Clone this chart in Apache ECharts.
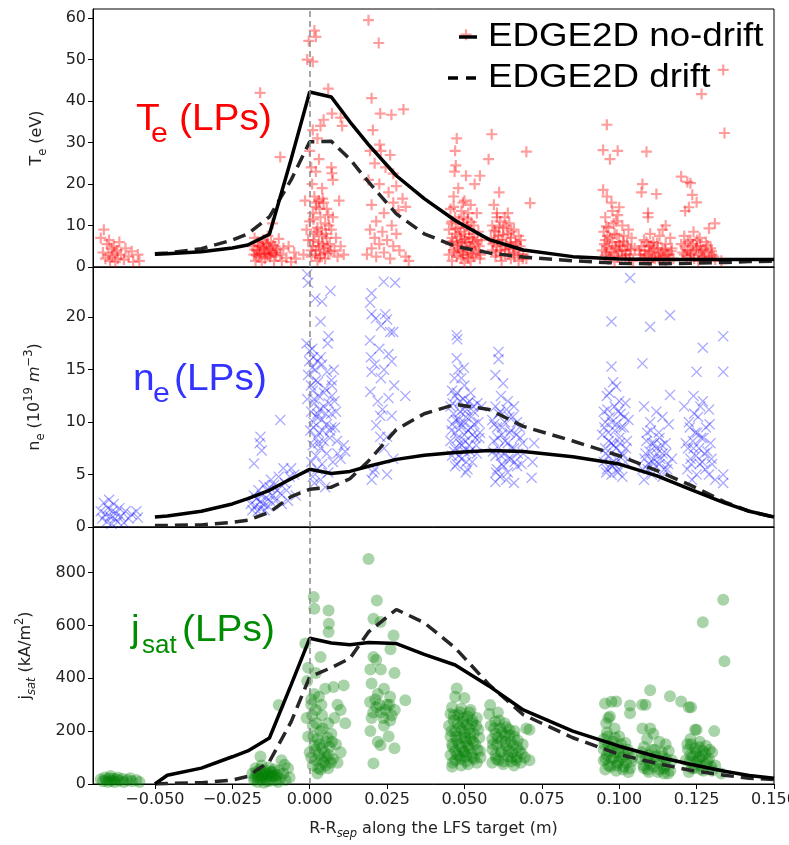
<!DOCTYPE html>
<html><head><meta charset="utf-8">
<script src="https://cdn.jsdelivr.net/npm/echarts@6/dist/echarts.min.js"></script>
<style>html,body{margin:0;padding:0;background:#fff}#c{width:789px;height:845px}</style>
</head><body><div id="c"></div>
<script>
// ---- tick labels ----
const xTicks = [-0.05, -0.025, 0, 0.025, 0.05, 0.075, 0.1, 0.125, 0.15];
const teTicks = [0, 10, 20, 30, 40, 50, 60];
const neTicks = [0, 5, 10, 15, 20];
const jTicks = [0, 200, 400, 600, 800];

// ---- EDGE2D model profiles (shared x grid) ----
const modelX =   [-0.05, -0.046, -0.035, -0.025, -0.02, -0.013, -0.006, 0, 0.007, 0.013, 0.019, 0.028, 0.037, 0.047, 0.058, 0.069, 0.085, 0.1, 0.112, 0.123, 0.134, 0.142, 0.15];
const teNoDrift = [3.1, 3.2, 3.7, 4.6, 5.3, 7.9, 26, 42.2, 41, 35, 29.5, 22, 16.5, 11.2, 6.6, 4.1, 2.5, 1.9, 1.8, 1.8, 1.8, 1.8, 1.8];
const teDrift =   [3.2, 3.4, 4.4, 6.5, 8, 12.1, 21, 30.2, 30.3, 26, 20.5, 12.8, 8.0, 5.0, 3.4, 2.4, 1.5, 0.9, 0.8, 0.9, 1.1, 1.3, 1.4];
const neNoDrift = [0.95, 1.05, 1.5, 2.2, 2.7, 3.5, 4.6, 5.5, 5.1, 5.3, 5.8, 6.45, 6.85, 7.1, 7.3, 7.2, 6.7, 6.0, 4.9, 3.6, 2.3, 1.5, 0.95];
const neDrift =   [0.15, 0.15, 0.2, 0.45, 0.65, 1.4, 2.9, 3.6, 3.8, 4.6, 6.3, 9.3, 10.8, 11.7, 11.2, 9.6, 8.2, 6.8, 5.4, 4.0, 2.4, 1.5, 0.95];
const jNoDrift =  [0, 33, 60, 103, 125, 174, 375, 551, 533, 527, 535, 531, 490, 450, 370, 280, 200, 143, 104, 75, 48, 32, 22];
const jDrift =    [0, 2, 5, 15, 29, 85, 235, 405, 440, 475, 575, 660, 610, 515, 375, 262, 175, 112, 78, 52, 33, 22, 17];

// ---- Langmuir probe measurements [x, value] ----
const teLP = [
[-0.0675,7],[-0.0665,9],[-0.0668,3.5],[-0.066,2],[-0.0655,5.5],[-0.065,3],[-0.0648,6.5],[-0.0645,1.5],[-0.064,4.5],[-0.0638,2.5],[-0.0633,5],[-0.063,3.5],[-0.0628,1.2],[-0.0622,4],[-0.062,2],[-0.0615,6],[-0.061,3],[-0.06,1.8],[-0.0595,4.5],[-0.0585,2.5],[-0.0575,3.8],[-0.057,1.2],[-0.0555,3],[-0.055,1.5],
[-0.016,42],[-0.0095,26.5],[-0.012,10.5],[-0.0185,5],[-0.018,3],[-0.0178,7],[-0.0175,1.5],[-0.017,4],[-0.0168,6],[-0.0165,2.5],[-0.016,5],[-0.0158,3.5],[-0.0155,1.2],[-0.015,6.5],[-0.0148,4.5],[-0.0145,2],[-0.014,3.2],[-0.0138,5.5],[-0.0135,7.5],[-0.013,4],[-0.0128,2.5],[-0.0125,6],[-0.012,3.5],[-0.0115,1.5],[-0.0112,5],[-0.011,2.8],[-0.0105,4.2],[-0.01,6.8],[-0.0095,3],[-0.009,1.5],[-0.0085,4.5],[-0.0075,2.2],[-0.0068,5],[-0.006,1.2],[-0.005,3.5],[-0.0045,2],
[0.0015,57],[0.002,55.5],[-0.0003,54.5],[-0.0008,50],[0.001,49.5],[0.006,43],[0.0072,37],[0.0045,35.5],[0.0035,34],[0.01,36],[0.0105,34],[0.001,33],[0.0025,31],[0,28],[0.003,26],[0.0005,24],[0.002,23],[0.0072,22.6],[0.0075,21],[0.007,24],[0.0008,20],[0.004,19],[0.0015,17],[0.003,16],[0.0045,15.5],[0.0055,14],[0.002,14.5],[0.001,13],[0.006,12.5],[0.0035,12],[0.005,10.5],[0,11],[0.0025,9.5],[0.007,9],[0.0015,8],[0.004,7.5],[0.0055,7],[-0.0005,6.5],[0.003,6],[0.0065,5.5],[0.001,5],[0.0045,4.5],[0.002,4],[0.008,4],[0.006,3.2],[0.0035,3],[0.0005,2.5],[0.005,2],[0.0025,1.5],[0.009,2.5],[0.01,5],[0.011,3],[0.0085,7],[0.0075,12],[0.0095,16],[-0.0015,16],[-0.001,9],[-0.002,3],
[0.019,59.5],[0.0223,54],[0.02,40.7],[0.0228,37],[0.0264,36.7],[0.0303,38],[0.0204,33],[0.0226,29.5],[0.023,28],[0.026,27],[0.0195,28],[0.021,25],[0.0245,24],[0.027,22.5],[0.019,21],[0.0225,20],[0.028,19.5],[0.0255,18],[0.03,16.5],[0.031,14.5],[0.02,15],[0.024,13],[0.0215,11],[0.0265,10],[0.0195,9],[0.0235,8.5],[0.028,8],[0.021,7],[0.025,6.5],[0.0225,5.5],[0.027,5],[0.02,4.5],[0.029,4],[0.024,3.5],[0.0215,2.5],[0.026,2],[0.031,2.5],[0.032,1.5],[0.0185,3],[0.0287,13.7],[0.027,15.5],
[0.0475,31],[0.047,28],[0.0472,24.5],[0.0468,23],[0.0505,56],[0.0505,22],[0.0533,20],[0.055,22],[0.048,19],[0.0465,17],[0.05,16],[0.052,15],[0.0455,14],[0.049,13.5],[0.054,13],[0.047,12],[0.051,11.5],[0.046,11],[0.0495,10.5],[0.053,10],[0.048,9.5],[0.045,9],[0.0515,9],[0.0545,8.5],[0.047,8],[0.05,8],[0.0485,7.5],[0.0525,7],[0.046,7],[0.0555,6.5],[0.049,6.5],[0.0475,6],[0.051,6],[0.0535,5.5],[0.0455,5.5],[0.05,5],[0.048,4.5],[0.052,4.5],[0.0465,4],[0.0545,4],[0.0495,3.5],[0.045,3],[0.051,3],[0.053,2.5],[0.0475,2.5],[0.049,2],[0.055,2],[0.046,1.5],[0.052,1.5],[0.05,1],
[0.0588,32],[0.0578,26],[0.07,27.8],[0.0612,18],[0.0595,15],[0.0712,15.4],[0.0605,13],[0.063,12],[0.0615,11],[0.0645,10.5],[0.059,10],[0.0625,9.5],[0.066,9],[0.06,8.5],[0.064,8],[0.061,7.5],[0.0675,7.5],[0.0585,7],[0.065,7],[0.062,6.5],[0.0595,6],[0.0665,6],[0.0635,5.5],[0.0605,5],[0.068,5],[0.0645,4.5],[0.0615,4],[0.059,4],[0.066,3.5],[0.063,3],[0.069,3],[0.06,2.5],[0.065,2],[0.062,1.5],[0.0675,1.5],[0.07,2],
[0.096,34.3],[0.0948,28.2],[0.0995,28],[0.097,26],[0.0948,18.6],[0.096,17],[0.0975,15.5],[0.0978,13.5],[0.1,14.4],[0.0955,12],[0.099,11],[0.101,10],[0.0965,9.5],[0.103,9],[0.095,8.5],[0.0985,8],[0.1015,7.5],[0.097,7],[0.104,7],[0.0955,6.5],[0.1,6],[0.1025,5.5],[0.096,5],[0.099,4.5],[0.105,4.5],[0.0945,4],[0.101,4],[0.0975,3.5],[0.1035,3],[0.0955,2.8],[0.0995,2.5],[0.102,2],[0.0965,1.8],[0.1045,1.5],[0.0985,1.2],
[0.1088,27.8],[0.1075,20],[0.1072,18],[0.112,17.6],[0.1093,13],[0.1093,12],[0.115,10],[0.114,9],[0.11,8],[0.113,7.5],[0.1165,7],[0.108,6.5],[0.111,6],[0.115,5.5],[0.1095,5],[0.1125,4.5],[0.117,4.5],[0.1065,4],[0.114,4],[0.1105,3.5],[0.116,3],[0.1085,3],[0.113,2.5],[0.107,2],[0.1115,2],[0.1175,2],[0.115,1.5],[0.1095,1.2],
[0.12,21.8],[0.122,20.5],[0.123,20.2],[0.1236,17.4],[0.125,15.6],[0.1225,14.4],[0.1213,13.5],[0.1309,10.5],[0.129,9.3],[0.124,8.5],[0.121,7.5],[0.126,7],[0.123,6.5],[0.128,6],[0.12,5.5],[0.125,5],[0.1295,4.5],[0.122,4],[0.1265,4],[0.124,3.5],[0.13,3],[0.121,3],[0.1275,2.5],[0.123,2],[0.131,1.8],[0.1255,1.5],[0.133,1.5],
[0.1336,47.5],[0.1266,41.7],[0.134,32.3]
];
const teLPdense = [
[0.0458,10.5],[0.0462,6.2],[0.0468,3.5],[0.0472,9.2],[0.0478,5.2],[0.0482,11.5],[0.0486,3.8],[0.0488,8.5],[0.0492,5.8],[0.0496,2.8],[0.0498,12],[0.0502,6.8],[0.0506,4.2],[0.0508,9.8],[0.0512,2.2],[0.0516,7.2],[0.0518,4.8],[0.0522,10.8],[0.0526,3.2],[0.0528,6],[0.0532,8],[0.0538,3.5],[0.0542,6.5],[0.0548,5],[0.0552,3],[0.0465,14.5],[0.0495,15.5],[0.0512,13],
[0.0592,5.5],[0.0596,8.8],[0.0602,3.5],[0.0608,6.5],[0.0612,9.5],[0.0618,2.8],[0.0622,5],[0.0626,7.8],[0.0632,4.2],[0.0636,10],[0.0642,3],[0.0648,6],[0.0652,8.5],[0.0656,4.5],[0.0662,2.5],[0.0668,5.5],[0.0672,4],[0.0678,3],[0.0682,6.5],[0.0688,2],[0.0605,12],[0.064,13],
[0.0952,5.5],[0.0958,3.5],[0.0962,7.5],[0.0968,4.5],[0.0972,2.2],[0.0978,6],[0.0982,3],[0.0988,5],[0.0992,7.8],[0.0998,3.8],[0.1002,5.2],[0.1008,2.5],[0.1012,6.2],[0.1018,4],[0.1022,3],[0.1028,5],[0.1032,2],[0.1038,4.2],[0.0958,9.8],[0.0982,10.5],[0.0995,12.5],
[0.1068,3],[0.1072,5],[0.1078,2],[0.1082,4],[0.1088,6],[0.1092,2.5],[0.1098,3.8],[0.1102,5.2],[0.1108,2.2],[0.1112,4.5],[0.1118,3],[0.1122,5.8],[0.1128,2],[0.1135,3.5],[0.1142,2.5],[0.1148,4.2],[0.1155,3],[0.1162,2],[0.1168,3.8],
[0.1205,3.5],[0.1212,5],[0.1218,2.5],[0.1222,6],[0.1228,4],[0.1232,3],[0.1238,5.5],[0.1242,2],[0.1248,4.5],[0.1252,6.5],[0.1258,3],[0.1262,5],[0.1268,2.5],[0.1272,4.2],[0.1278,3.5],[0.1285,5.2],[0.129,2.2],[0.1298,3.8],[0.1305,2.5],
[-0.0178,4.2],[-0.0172,2.8],[-0.0166,5.2],[-0.0162,3.2],[-0.0152,4.8],[-0.0146,3.2],[-0.0142,5.8],[-0.0136,2.8],[-0.0132,4.5],[-0.0126,3.2],[-0.0118,5.2],[-0.0108,3.5],
[0.0005,4],[0.0012,6.5],[0.0018,3],[0.0022,8.5],[0.0028,5],[0.0032,2.2],[0.0038,9],[0.0042,5.5],[0.0048,3.5],[0.0052,8],[0.0058,5],[0.0062,10],[0.0068,3.8],[0.0022,15.5],[0.0042,16.5],[0.0032,14],[0.0012,11.5]
];
const neLP = [
[-0.0675,1.5],[-0.067,0.8],[-0.0665,2.3],[-0.066,1.2],[-0.0655,0.5],[-0.0652,1.8],[-0.0648,2.6],[-0.0645,1.0],[-0.064,0.3],[-0.0638,1.5],[-0.0633,2.2],[-0.063,0.8],[-0.0625,1.3],[-0.062,0.5],[-0.0615,1.8],[-0.061,1.0],[-0.06,0.4],[-0.0595,1.5],[-0.0585,0.8],[-0.0575,1.2],[-0.056,1.5],[-0.0555,0.9],
[-0.018,6.05],[-0.0159,8.6],[-0.0162,8.0],[-0.0155,7.3],[-0.0095,10.2],[-0.0085,5.6],[-0.006,5.6],[-0.0065,4.8],[-0.019,2.2],[-0.0185,1.6],[-0.018,3.0],[-0.0175,2.0],[-0.0172,2.7],[-0.0168,1.5],[-0.0165,3.5],[-0.016,2.4],[-0.0158,1.8],[-0.0155,3.0],[-0.015,2.2],[-0.0148,4.0],[-0.0145,1.6],[-0.014,2.8],[-0.0138,3.5],[-0.0135,2.0],[-0.013,3.8],[-0.0128,2.5],[-0.0125,4.5],[-0.012,3.0],[-0.0115,4.0],[-0.011,2.5],[-0.0105,3.5],[-0.01,4.8],[-0.0095,3.2],[-0.009,2.2],[-0.008,4.2],[-0.0075,3.5],[-0.007,2.5],[-0.005,5.0],[-0.0045,3.0],
[-0.0008,24.1],[-0.0005,23.3],[0.0018,21.8],[0.004,21.5],[0.0067,22.5],[0.0035,19.6],[0.0061,18.2],[0.0058,17.5],[-0.001,17.5],[0,16.8],[0.0012,16.2],[0.0025,15.8],[0.0008,15.2],[0.004,15.5],[-0.0005,14.5],[0.002,14.0],[0.007,14.0],[0.0072,13.5],[0.005,13.2],[0.001,13.0],[-0.0008,12.2],[0.003,12.5],[0.0015,11.8],[0.0045,11.5],[0.0005,11.0],[0.0025,10.8],[0.007,10.8],[0.0038,10.2],[0.0012,10.0],[0.007,9.5],[0.0055,9.8],[0.0002,9.2],[0.003,9.0],[0.002,8.5],[0.0045,8.2],[0.0065,8.5],[0.001,7.8],[0.0035,7.5],[0.011,7.8],[0.0115,7.2],[0.0055,7.0],[0.002,6.8],[0.0005,6.2],[0.004,6.0],[0.0075,6.2],[0.0025,5.5],[0.006,5.2],[0.001,4.8],[0.0035,4.5],[0.005,3.8],[0.0015,4.2],[0.008,12.0],[0.0085,11.0],[0.009,7.0],[0.01,6.5],[0.0078,15],[0.0082,9.5],[0.0088,8.2],
[0.0239,23.4],[0.0276,23.3],[0.02,22.3],[0.0195,21.4],[0.0214,19.9],[0.02,20.3],[0.023,19.2],[0.0244,20.3],[0.026,18.6],[0.027,18.6],[0.025,19.8],[0.0195,17.8],[0.0225,17.0],[0.0198,16.2],[0.0255,16.5],[0.021,15.5],[0.024,15.0],[0.0265,15.8],[0.02,14.8],[0.023,14.2],[0.0273,13.5],[0.0196,12.9],[0.0309,12.5],[0.022,12.0],[0.0255,12.3],[0.0235,11.2],[0.0265,10.6],[0.0228,10.6],[0.0215,9.7],[0.0228,8.6],[0.025,8.6],[0.024,7.5],[0.027,6.5],[0.021,5.5],[0.02,4.5],[0.0205,5.2],[0.025,5.0],
[0.0475,18.3],[0.0477,17.9],[0.0475,16.1],[0.048,15.0],[0.049,14.2],[0.046,13.0],[0.05,13.5],[0.052,12.8],[0.047,12.5],[0.0485,12.0],[0.051,11.8],[0.0455,11.5],[0.0495,11.2],[0.053,11.0],[0.0465,10.8],[0.0505,10.5],[0.048,10.2],[0.0545,10.0],[0.046,9.8],[0.049,9.5],[0.052,9.5],[0.047,9.0],[0.05,8.8],[0.0535,8.5],[0.0455,8.2],[0.0485,8.0],[0.0515,7.8],[0.047,7.5],[0.05,7.2],[0.054,7.0],[0.046,6.8],[0.049,6.5],[0.0525,6.2],[0.0475,6.0],[0.047,5.8],[0.0504,5.2],[0.051,5.5],[0.055,9.0],[0.0555,11.5],
[0.061,16.7],[0.061,16.0],[0.06,14.5],[0.0625,13.7],[0.064,12.0],[0.06,11.5],[0.066,11.5],[0.0615,11.0],[0.0645,10.5],[0.059,10.2],[0.063,10.0],[0.067,10.0],[0.0605,9.5],[0.065,9.2],[0.062,8.8],[0.068,8.5],[0.0595,8.2],[0.064,8.0],[0.061,7.5],[0.066,7.5],[0.063,7.0],[0.06,6.8],[0.065,6.5],[0.069,7.0],[0.062,6.0],[0.067,5.8],[0.0605,5.5],[0.064,5.2],[0.06,4.3],[0.0615,4.8],[0.0635,4.5],[0.0717,4.7],[0.072,6.2],[0.0725,8.0],[0.066,4.2],
[0.1035,23.75],[0.0975,19.6],[0.0975,15.3],[0.098,13.8],[0.099,13.4],[0.1,12.0],[0.096,12.5],[0.0985,11.5],[0.102,11.8],[0.095,11.0],[0.1005,10.8],[0.097,10.5],[0.103,10.2],[0.0955,10.0],[0.099,9.8],[0.1015,9.5],[0.0965,9.0],[0.0945,8.8],[0.1,8.5],[0.1025,8.2],[0.0975,8.0],[0.0955,7.5],[0.099,7.5],[0.101,7.0],[0.0965,6.8],[0.095,6.2],[0.0985,6.0],[0.102,6.2],[0.096,5.5],[0.0975,5.0],[0.0995,5.2],[0.101,4.8],
[0.11,19.1],[0.1164,20.2],[0.1075,15.6],[0.1164,12.6],[0.108,11.5],[0.112,11.0],[0.114,10.5],[0.11,10.0],[0.116,9.8],[0.109,9.0],[0.113,8.5],[0.1105,8.0],[0.115,8.0],[0.112,7.5],[0.1085,7.0],[0.114,7.0],[0.111,6.5],[0.117,6.5],[0.1095,6.0],[0.113,6.0],[0.1075,5.5],[0.1155,5.5],[0.1105,5.0],[0.108,4.5],[0.114,4.8],
[0.1336,18.2],[0.127,17.1],[0.125,14.8],[0.1336,14.8],[0.124,12.5],[0.127,12.0],[0.121,11.5],[0.129,11.2],[0.1255,10.5],[0.1225,10.0],[0.128,9.5],[0.1245,9.0],[0.1265,8.5],[0.1215,8.0],[0.1295,8.0],[0.124,7.5],[0.1275,7.0],[0.123,6.5],[0.126,6.0],[0.13,6.0],[0.122,5.5],[0.125,5.0],[0.129,5.0],[0.1235,4.5],[0.1336,5.0],[0.1336,4.2],[0.131,4.5]
];
const neLPdense = [
[0.0458,9.2],[0.0462,11.8],[0.0466,7.2],[0.0472,10.2],[0.0476,12.8],[0.0478,8.5],[0.0482,6.8],[0.0486,11],[0.0488,9.8],[0.0492,7.8],[0.0496,12.2],[0.0498,10],[0.0502,8.2],[0.0506,6.2],[0.0508,11.2],[0.0512,9.2],[0.0516,12],[0.0518,7.2],[0.0522,10.5],[0.0526,8.8],[0.0528,11.5],[0.0532,9.8],[0.0538,7.8],[0.0542,11.8],[0.0548,8.5],[0.0468,14.2],[0.0498,15.2],
[0.0592,7.2],[0.0596,9.8],[0.0602,5.2],[0.0608,8.5],[0.0612,10.8],[0.0618,6.8],[0.0622,9.5],[0.0626,5.8],[0.0632,8.2],[0.0636,11.2],[0.0642,6.5],[0.0646,9],[0.0652,7.5],[0.0656,10.5],[0.0662,6.2],[0.0668,8.8],[0.0672,7],[0.0678,9.5],[0.0684,6],[0.0688,8],[0.0618,12.5],
[0.0952,9.5],[0.0956,7],[0.0962,11.2],[0.0966,8.2],[0.0972,6],[0.0976,10],[0.0982,7.8],[0.0986,9.2],[0.0992,6.5],[0.0996,11],[0.1002,8],[0.1006,9.5],[0.1012,6.8],[0.1016,10.5],[0.1022,7.5],[0.0958,5.2],[0.0978,5.8],[0.0998,5.5],[0.0968,12.8],
[0.1082,6.5],[0.1088,8.2],[0.1092,5.5],[0.1098,7.2],[0.1102,9.2],[0.1108,6.2],[0.1112,8],[0.1118,5.8],[0.1122,7],[0.1128,9],[0.1132,6.5],[0.1138,7.8],[0.1145,5.5],[0.1152,7],[0.1158,6],
[0.1222,7.5],[0.1228,9.5],[0.1232,6],[0.1238,8.2],[0.1242,10.8],[0.1248,6.8],[0.1252,9],[0.1258,7.5],[0.1262,11.5],[0.1268,6.2],[0.1272,8.5],[0.1278,5.5],[0.1285,7.2],[0.1292,9.8],[0.1298,6.5],
[-0.0002,15.8],[0.0004,13.5],[0.0008,17],[0.0014,12.2],[0.0018,15],[0.0022,10.5],[0.0026,13.8],[0.0032,11.2],[0.0036,16.2],[0.0042,9.2],[0.0046,12.8],[0.0052,10.8],[0.0056,14.8],[0.0062,11.8],[0.0066,9.2],[0.0072,12.5],[0.0028,8],[0.0012,9.5]
];
const jsatLP = [
[-0.0675,18],[-0.0668,10],[-0.0662,25],[-0.0658,15],[-0.0652,8],[-0.0648,22],[-0.0643,30],[-0.064,12],[-0.0635,20],[-0.063,8],[-0.0625,18],[-0.062,25],[-0.0615,12],[-0.0605,20],[-0.06,8],[-0.059,15],[-0.058,22],[-0.0575,10],[-0.056,15],[-0.055,8],
[-0.0159,104],[-0.01,299],[-0.0091,90],[-0.0081,73],[-0.0185,40],[-0.018,15],[-0.0175,60],[-0.017,30],[-0.0168,8],[-0.0162,45],[-0.0158,20],[-0.0155,70],[-0.015,35],[-0.0148,5],[-0.0143,50],[-0.014,20],[-0.0135,38],[-0.0132,62],[-0.0128,12],[-0.0125,45],[-0.012,28],[-0.0115,55],[-0.011,15],[-0.0105,35],[-0.01,50],[-0.0095,20],[-0.0085,40],[-0.0078,15],[-0.007,60],[-0.0065,25],
[0.0013,707],[0.0015,663],[0.0061,656],[0.0062,606],[0.0061,575],[-0.0014,531],[0.0035,480],[-0.0005,440],[0.0077,367],[0.011,373],[0.0015,340],[0.003,330],[0.0005,300],[0.005,360],[0.009,300],[0.01,280],[0.0115,230],[0.008,250],[0.002,280],[0.004,260],[-0.001,250],[0.006,230],[0.001,220],[0.0035,200],[0.007,190],[-0.0005,180],[0.0025,170],[0.005,160],[0.0015,145],[0.004,135],[0.0065,140],[0,120],[0.003,110],[0.0055,100],[0.002,90],[0.0045,80],[0.0075,95],[0.001,70],[0.0035,55],[0.006,60],[0.0025,40],[0.009,80],[0.01,120],[0.0085,150],[0.0005,320],[-0.0008,390],[0.002,420],
[0.019,851],[0.0217,694],[0.0206,625],[0.0229,613],[0.0271,562],[0.0261,510],[0.0206,480],[0.0215,470],[0.0196,433],[0.023,433],[0.0274,420],[0.02,380],[0.024,360],[0.022,340],[0.026,330],[0.0195,310],[0.025,300],[0.0309,317],[0.0215,290],[0.0275,280],[0.023,270],[0.02,250],[0.026,240],[0.024,220],[0.0196,200],[0.0229,147],[0.0274,135],[0.0255,180],[0.0206,78],[0.022,160],
[0.0475,361],[0.047,330],[0.05,325],[0.046,290],[0.049,285],[0.052,280],[0.0455,265],[0.048,260],[0.051,255],[0.054,250],[0.0465,240],[0.0495,235],[0.0525,230],[0.045,220],[0.0485,215],[0.0515,210],[0.0545,205],[0.047,200],[0.05,195],[0.053,190],[0.0455,180],[0.049,175],[0.052,170],[0.0475,165],[0.0505,160],[0.046,150],[0.0535,150],[0.049,140],[0.0515,135],[0.047,125],[0.05,120],[0.055,125],[0.0455,110],[0.0485,105],[0.0525,100],[0.047,90],[0.0505,85],[0.054,80],[0.049,70],[0.046,65],
[0.0583,299],[0.0608,270],[0.058,265],[0.06,235],[0.063,230],[0.0585,220],[0.0615,210],[0.0645,205],[0.06,190],[0.063,185],[0.066,180],[0.059,170],[0.062,165],[0.065,160],[0.0605,150],[0.0635,145],[0.067,140],[0.059,130],[0.062,125],[0.0655,120],[0.0685,115],[0.06,110],[0.064,105],[0.067,100],[0.061,90],[0.065,85],[0.0625,75],[0.066,70],[0.07,210],[0.071,205],[0.071,90],[0.059,80],
[0.0954,304],[0.0975,311],[0.099,312],[0.1035,297],[0.1035,268],[0.097,255],[0.0965,250],[0.0958,230],[0.0985,210],[0.096,195],[0.1,180],[0.095,170],[0.098,160],[0.102,155],[0.0965,145],[0.1,135],[0.095,130],[0.0985,120],[0.103,115],[0.096,110],[0.101,100],[0.0975,95],[0.095,90],[0.0995,80],[0.104,85],[0.0965,70],[0.1015,65],[0.0955,55],[0.099,50],[0.103,45],
[0.1074,300],[0.1085,300],[0.11,355],[0.1164,332],[0.1075,210],[0.11,210],[0.111,190],[0.109,170],[0.113,160],[0.115,150],[0.108,140],[0.1115,130],[0.116,125],[0.1095,110],[0.114,105],[0.107,95],[0.112,90],[0.117,90],[0.11,75],[0.115,70],[0.108,60],[0.113,55],[0.1165,50],[0.1095,45],[0.1145,40],
[0.12,312],[0.1225,290],[0.1232,290],[0.1245,205],[0.125,205],[0.1307,200],[0.123,170],[0.126,160],[0.122,150],[0.128,145],[0.1245,135],[0.127,125],[0.13,120],[0.123,110],[0.126,100],[0.129,95],[0.1215,90],[0.125,80],[0.128,75],[0.131,70],[0.1235,60],[0.1265,55],[0.13,50],[0.1225,45],[0.133,40],
[0.127,612],[0.1336,697],[0.134,464]
];
const jsatLPdense = [
[0.0458,200],[0.0462,140],[0.0466,260],[0.0472,180],[0.0476,110],[0.0478,230],[0.0482,150],[0.0486,270],[0.0488,95],[0.0492,205],[0.0496,125],[0.0498,250],[0.0502,175],[0.0506,105],[0.0508,225],[0.0512,145],[0.0516,270],[0.0518,190],[0.0522,115],[0.0526,240],[0.0528,160],[0.0532,95],[0.0538,220],[0.0542,130],[0.0548,175],[0.0552,100],[0.0462,80],[0.0512,75],
[0.0592,150],[0.0596,210],[0.0602,95],[0.0608,175],[0.0612,240],[0.0618,120],[0.0622,195],[0.0626,85],[0.0632,160],[0.0636,215],[0.0642,125],[0.0646,185],[0.0652,100],[0.0656,145],[0.0662,200],[0.0668,90],[0.0672,165],[0.0678,125],[0.0682,80],[0.0688,150],[0.0695,100],
[0.0952,150],[0.0956,95],[0.0962,180],[0.0966,125],[0.0972,65],[0.0976,140],[0.0982,100],[0.0986,175],[0.0992,70],[0.0996,120],[0.1002,90],[0.1006,150],[0.1012,55],[0.1016,110],[0.1022,80],[0.1028,130],[0.1035,60],[0.1042,100],
[0.1072,120],[0.1078,70],[0.1085,100],[0.1092,55],[0.1098,85],[0.1105,130],[0.1112,65],[0.1118,105],[0.1125,45],[0.1132,80],[0.1138,120],[0.1145,60],[0.1152,95],[0.1158,40],
[0.1222,130],[0.1228,85],[0.1232,150],[0.1238,105],[0.1242,60],[0.1248,120],[0.1252,90],[0.1258,140],[0.1262,70],[0.1268,105],[0.1272,50],[0.1278,115],[0.1285,85],[0.1292,130],[0.1298,65],
[-0.0178,25],[-0.0172,45],[-0.0166,20],[-0.016,55],[-0.0152,25],[-0.0146,42],[-0.0138,10],[-0.013,30],[-0.0122,45],[-0.0112,30],[-0.0102,8],
[0.0005,100],[0.0012,180],[0.0018,130],[0.0022,230],[0.0028,60],[0.0032,150],[0.0038,95],[0.0042,210],[0.0048,120],[0.0052,70],[0.0058,175],[0.0062,110],[0.0068,80],[0.0072,160],[0.0008,260],[0.0038,300],
[0.0205,270],[0.0225,300],[0.0245,280],[0.0265,260],[0.0212,320],[0.0238,250],[0.0258,300]
];

// ---- build chart ----
const chart = echarts.init(document.getElementById('c'), null, {renderer: 'canvas'});
const FONT = 'DejaVu Sans';
const TXT = '#222';
const pair = arr => modelX.map((x, i) => [x, arr[i]]);
const grids = [
  {left: 93, right: 15, top: 9, height: 258},
  {left: 93, right: 15, top: 267, height: 260},
  {left: 93, right: 15, top: 527, height: 257}
].map(g => Object.assign(g, {show: true, borderColor: '#000', borderWidth: 1, backgroundColor: 'transparent',
  containLabel: false, outerBoundsMode: 'none'}));

const fmtX = v => (v < 0 ? '\u2212' : '') + Math.abs(v).toFixed(3);
const xAxes = [0, 1, 2].map(i => ({
  type: 'value', gridIndex: i, min: -0.07, max: 0.15,
  axisLine: {show: true, onZero: false, lineStyle: {color: '#000', width: 1}},
  axisTick: {show: i === 2, customValues: xTicks, length: 5, lineStyle: {color: '#000'}},
  axisLabel: {show: i === 2, customValues: xTicks, formatter: fmtX, fontFamily: FONT, fontSize: 16, color: TXT, margin: 8, showMaxLabel: true, hideOverlap: false},
  splitLine: {show: false},
  name: i === 2 ? '{a|R-R}{s|sep}{a| along the LFS target (m)}' : '',
  nameLocation: 'middle', nameGap: 34,
  nameTextStyle: {rich: {
    a: {fontFamily: FONT, fontSize: 16, color: TXT, lineHeight: 22, verticalAlign: 'middle'},
    s: {fontFamily: FONT, fontSize: 11.5, fontStyle: 'italic', color: TXT, lineHeight: 22, verticalAlign: 'bottom'}
  }}
}));
const richY = {
  a: {fontFamily: FONT, fontSize: 16, color: TXT, lineHeight: 24, verticalAlign: 'middle'},
  s: {fontFamily: FONT, fontSize: 11.5, color: TXT, lineHeight: 24, verticalAlign: 'bottom'},
  si: {fontFamily: FONT, fontSize: 11.5, fontStyle: 'italic', color: TXT, lineHeight: 24, verticalAlign: 'bottom'},
  p: {fontFamily: FONT, fontSize: 11.5, color: TXT, lineHeight: 24, verticalAlign: 'top'},
  i: {fontFamily: FONT, fontSize: 16, fontStyle: 'italic', color: TXT, lineHeight: 24, verticalAlign: 'middle'}
};
const yDefs = [
  {max: 62.2, ticks: teTicks, name: '{a|T}{s|e}{a| (eV)}', gap: 44},
  {max: 24.8, ticks: neTicks, name: '{a|n}{s|e}{a| (10}{p|19}{i| m}{p|\u22123}{a|)}', gap: 46},
  {max: 972, ticks: jTicks, name: '{a|j}{si|sat}{a| (kA/m}{p|2}{a|)}', gap: 55}
];
const yAxes = yDefs.map((d, i) => ({
  type: 'value', gridIndex: i, min: 0, max: d.max,
  axisLine: {show: true, onZero: false, lineStyle: {color: '#000', width: 1}},
  axisTick: {show: true, customValues: d.ticks, length: 5, lineStyle: {color: '#000'}},
  axisLabel: {customValues: d.ticks, fontFamily: FONT, fontSize: 16, color: TXT, margin: 7},
  splitLine: {show: false},
  name: d.name, nameLocation: 'middle', nameRotate: 90, nameGap: d.gap,
  nameTextStyle: {rich: richY}
}));

const vline = {silent: true, symbol: 'none', label: {show: false},
  lineStyle: {color: '#888', type: [6, 4], width: 1.5}, data: [{xAxis: 0}], animation: false};
const plusPath = 'path://M4,0H6V4H10V6H6V10H4V6H0V4H4Z';
const crossPath = 'path://M0,1L1,0L6,5L11,0L12,1L7,6L12,11L11,12L6,7L1,12L0,11L5,6Z';
const scatterDefs = [
  {data: teLP.concat(teLPdense), symbol: plusPath, size: 11, color: 'rgba(255,0,0,0.48)'},
  {data: neLP.concat(neLPdense), symbol: crossPath, size: 11, color: 'rgba(0,0,255,0.42)'},
  {data: jsatLP.concat(jsatLPdense), symbol: 'circle', size: 12, color: 'rgba(0,128,0,0.42)'}
];
const models = [[teNoDrift, teDrift], [neNoDrift, neDrift], [jNoDrift, jDrift]];
const series = [];
scatterDefs.forEach((s, i) => {
  series.push({type: 'scatter', xAxisIndex: i, yAxisIndex: i, data: s.data, symbol: s.symbol,
    symbolSize: s.size, itemStyle: {color: s.color}, z: 2, markLine: vline, silent: true, large: false});
  series.push({type: 'line', name: 'EDGE2D no-drift', xAxisIndex: i, yAxisIndex: i, data: pair(models[i][0]),
    showSymbol: false, symbol: 'none', lineStyle: {color: '#000', width: 3.5}, z: 4, silent: true});
  series.push({type: 'line', name: 'EDGE2D drift', xAxisIndex: i, yAxisIndex: i, data: pair(models[i][1]),
    showSymbol: false, symbol: 'none', lineStyle: {color: '#262626', width: 3.5, type: [13, 7]}, z: 3, silent: true});
});

const SANS = 'Liberation Sans';
const txt = (x, y, text, size, color, sx) => ({type: 'text', x: x, y: y, scaleX: sx || 1.08, z: 10,
  style: {text: text, font: size + 'px "' + SANS + '"', fill: color, verticalAlign: 'middle'}});
const graphic = [
  {type: 'line', z: 10, shape: {x1: 459, y1: 37, x2: 477, y2: 37}, style: {stroke: '#000', lineWidth: 3.5}},
  {type: 'line', z: 10, shape: {x1: 448, y1: 78, x2: 477, y2: 78}, style: {stroke: '#000', lineWidth: 3.5, lineDash: [10, 8]}},
  txt(488, 37, 'EDGE2D no-drift', 34, '#000'),
  txt(488, 78, 'EDGE2D drift', 34, '#000'),
  txt(136, 120, 'T', 36, '#ff0000'),
  txt(151, 134, 'e', 28, '#ff0000'),
  txt(179, 120, '(LPs)', 36, '#ff0000'),
  txt(133, 380, 'n', 36, '#3333ff'),
  txt(153, 394, 'e', 28, '#3333ff'),
  txt(174, 380, '(LPs)', 36, '#3333ff'),
  txt(131, 631, 'j', 36, '#008c00'),
  txt(142, 646, 'sat', 26, '#008c00', 1.0),
  txt(182, 631, '(LPs)', 36, '#008c00')
];

chart.setOption({
  animation: false,
  backgroundColor: '#fff',
  grid: grids, xAxis: xAxes, yAxis: yAxes, series: series, graphic: graphic
});
</script></body></html>
